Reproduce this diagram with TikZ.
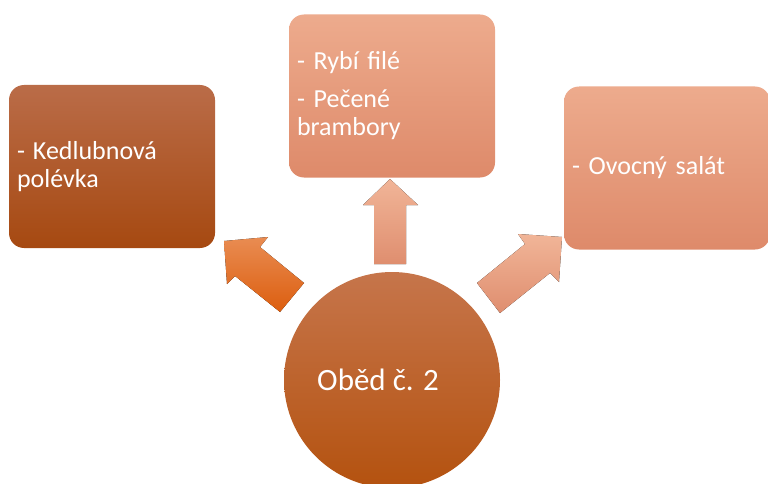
\documentclass[tikz,border=0pt]{standalone}
\usepackage{fontspec}
\setmainfont{Carlito}
\usetikzlibrary{positioning}

\definecolor{darkTop}{HTML}{BA6C48}
\definecolor{darkBot}{HTML}{A64911}
\definecolor{lightTop}{HTML}{EDAB8D}
\definecolor{lightBot}{HTML}{DE8A6A}
\definecolor{hubTop}{HTML}{C6754B}
\definecolor{hubBot}{HTML}{B4520F}
\definecolor{orangeTop}{HTML}{E98C52}
\definecolor{orangeBot}{HTML}{DC5E0F}
\definecolor{paleTop}{HTML}{F1B598}
\definecolor{paleBot}{HTML}{DF8E6F}

\tikzset{
  menubox/.style={rectangle, rounded corners=15pt, minimum height=163pt,
    text width=190pt, inner xsep=8pt, align=left, text=white,
    font=\fontsize{26}{28}\selectfont},
  hub/.style={circle, minimum size=216pt, inner sep=0pt,
    top color=hubTop, bottom color=hubBot},
}

\begin{document}
\begin{tikzpicture}[x=1pt,y=-1pt]
\useasboundingbox (0,0) rectangle (768,484);

% the three courses
\node[menubox, top color=darkTop, bottom color=darkBot] (polevka) at (112,166.5)
  {-\hspace{8pt}Kedlubnová\\polévka};
\node[menubox, top color=lightTop, bottom color=lightBot] (hlavni) at (392,96)
  {- Rybí filé\\[10pt]- Pečené\\brambory};
\node[menubox, top color=lightTop, bottom color=lightBot] (salat) at (667,168)
  {- Ovocný salát};

% centre
\node[hub] (obed) at (392,380) {};
\node[text=white, font=\fontsize{31}{34}\selectfont] (obedtext) at (378,380) {Oběd č. 2};

% block arrows
\fill[top color=orangeTop, bottom color=orangeBot]
  (224,241) -- (268,237) -- (260,247) -- (304,283) -- (280,312) -- (235,276) -- (227,284) -- cycle;
\fill[top color=paleTop, bottom color=paleBot]
  (390,179) -- (418,205) -- (406,205) -- (406,264) -- (374,264) -- (374,205) -- (363,205) -- cycle;
\fill[top color=paleTop, bottom color=paleBot]
  (562,237) -- (559,282) -- (550,273) -- (500,313) -- (477,283) -- (525,244) -- (518,234) -- cycle;
\end{tikzpicture}
\end{document}
